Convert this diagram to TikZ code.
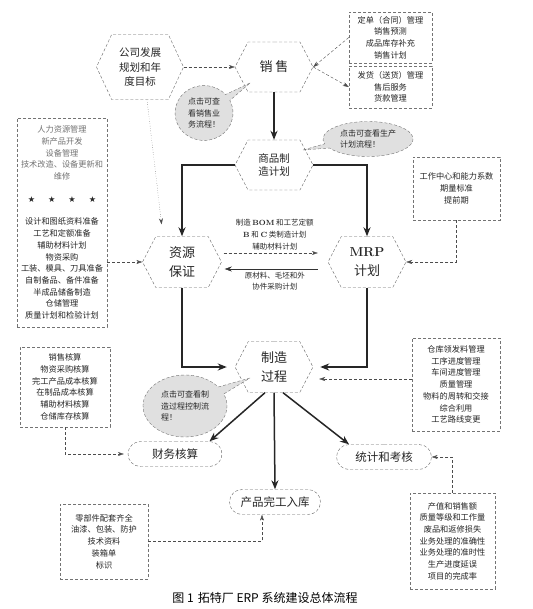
\documentclass[tikz,border=0pt]{standalone}
\usepackage{fontspec}
\newfontfamily\cjk{Noto Sans CJK SC}
\newfontfamily\symfont{DejaVu Sans}
\usetikzlibrary{arrows.meta,shapes.symbols,shapes.misc,shapes.callouts}

\begin{document}
\begin{tikzpicture}[
    x=1pt, y=-1pt,
    >=Stealth,
    every node/.style={font=\cjk, text=black!85},
    hexa/.style={
        draw=black!60,
        densely dashed,
        thin,
        signal,
        signal to=east and west,
        signal pointer angle=125,
        inner sep=0pt,
        align=center,
        minimum width=78pt,
        minimum height=51pt,
        font=\cjk\fontsize{13}{19}\selectfont
    },
    infobox/.style={
        draw=black!55,
        densely dashed,
        thin,
        rectangle,
        inner sep=0pt,
        align=center,
        font=\cjk\fontsize{8.2}{11.7}\selectfont
    },
    term/.style={
        draw=black!60,
        densely dashed,
        thin,
        rounded rectangle,
        inner sep=0pt,
        minimum height=25pt,
        font=\cjk\fontsize{11.5}{14}\selectfont
    },
    bubble/.style={
        ellipse callout,
        draw=black!55,
        densely dashed,
        thin,
        fill=black!12,
        inner sep=0pt,
        align=left,
        font=\cjk\fontsize{8}{11.5}\selectfont
    },
    flow/.style={->, line width=1.5pt, draw=black!85, >={Stealth[length=9pt,width=7pt]}},
    link/.style={->, densely dashed, thin, draw=black!70, >={Stealth[length=6pt,width=4pt]}}
]

\fill[white] (0,0) rectangle (532,609);
\useasboundingbox (0,0) rectangle (532,609);

% ==========================================================
% MAIN FLOW
% ==========================================================
\node[hexa, minimum width=87pt, minimum height=65pt, signal pointer angle=130,
      font=\cjk\fontsize{10.5}{14.5}\selectfont] (plan) at (140,67) {公司发展\\规划和年\\度目标};
\node[hexa, minimum height=50pt] (sales) at (274,67) {销\hspace{3pt}售};
\node[hexa, minimum height=50pt, font=\cjk\fontsize{10.5}{13}\selectfont] (mps) at (274,165) {商品制\\造计划};
\node[hexa, minimum width=79pt] (resource) at (182,262) {资源\\保证};
\node[hexa] (mrp) at (367,262) {{\rmfamily\bfseries MRP}\\计划};
\node[hexa] (making) at (274,367) {制造\\过程};

\node[term, minimum width=94pt] (finance) at (175,454) {财务核算};
\node[term, minimum width=95pt] (stats) at (384,457) {统计和考核};
\node[term, minimum width=91pt] (store) at (275,502) {产品完工入库};

% ==========================================================
% INFO BOXES
% ==========================================================
\node[infobox, minimum width=83pt, minimum height=51pt] (orderbox) at (390.5,37.5)
    {定单（合同）管理\\销售预测\\成品库存补充\\销售计划};
\node[infobox, minimum width=83pt, minimum height=42pt] (shipbox) at (390.5,87)
    {发货（送货）管理\\售后服务\\货款管理};
\node[infobox, minimum width=90pt, minimum height=209pt] (prepbox) at (62,222.5)
    {\textcolor{black!55}{人力资源管理}\\\textcolor{black!55}{新产品开发}\\
     \textcolor{black!55}{设备管理}\\\textcolor{black!55}{技术改造、设备更新和}\\
     \textcolor{black!55}{维修}\\[11pt]
     {\symfont ★\hspace{13pt}★\hspace{13pt}★\hspace{13pt}★}\\[11pt]
     设计和图纸资料准备\\工艺和定额准备\\辅助材料计划\\物资采购\\
     工装、模具、刀具准备\\自制备品、备件准备\\半成品储备制造\\仓储管理\\
     质量计划和检验计划};
\node[infobox, minimum width=87pt, minimum height=63pt] (wcbox) at (456.5,188.5)
    {工作中心和能力系数\\期量标准\\提前期};
\node[infobox, minimum width=88pt, minimum height=93pt] (shopbox) at (456,384.5)
    {仓库领发料管理\\工序进度管理\\车间进度管理\\质量管理\\物料的周转和交接\\综合利用\\工艺路线变更};
\node[infobox, minimum width=90pt, minimum height=80pt] (accbox) at (65,387)
    {销售核算\\物资采购核算\\完工产品成本核算\\在制品成本核算\\辅助材料核算\\仓储库存核算};
\node[infobox, minimum width=88pt, minimum height=75pt] (packbox) at (104,541.5)
    {零部件配套齐全\\油漆、包装、防护\\技术资料\\装箱单\\标识};
\node[infobox, minimum width=85pt, minimum height=96pt] (kpibox) at (452.5,541)
    {产值和销售额\\质量等级和工作量\\废品和返修损失\\业务处理的准确性\\业务处理的准时性\\生产进度延误\\项目的完成率};

% ==========================================================
% BUBBLES
% ==========================================================
\node[bubble, align=center, minimum width=58pt, minimum height=55pt,
      callout absolute pointer={([xshift=-24pt,yshift=-16pt]sales.center)}] (tip1) at (204,113)
    {点击可查\\看销售业\\务流程！};
\node[bubble, minimum width=90pt, minimum height=35pt,
      callout absolute pointer={([xshift=29pt,yshift=15pt]mps.center)}] (tip2) at (368,139)
    {点击可查看生产\\计划流程！};
\node[bubble, minimum width=84pt, minimum height=62pt,
      callout absolute pointer={([xshift=-24pt,yshift=-11pt]making.center)}] (tip3) at (185,406)
    {点击可查看制\\造过程控制流\\程！};

% ==========================================================
% CONNECTIONS
% ==========================================================
\draw[link] (plan.east) -- (sales.west);
\draw[link] (orderbox.west) -- (sales.east);
\draw[link] (sales.east) -- (shipbox.west);
\draw[link, dotted, shorten >=12pt] ([xshift=7pt]plan.south) -- ([xshift=-19pt]resource.north);

\draw[flow] (sales.south) -- (mps.north);
\draw[flow] (mps.west) -| (resource.north);
\draw[flow] (mps.east) -| (mrp.north);

\draw[link, shorten >=10pt, shorten <=2pt] ([yshift=9pt]resource.east) -- ([yshift=9pt]mrp.west)
    node[midway, above, inner sep=3pt, align=center, font=\cjk\fontsize{7.5}{12}\selectfont]
    {制造 {\rmfamily\bfseries BOM} 和工艺定额\\{\rmfamily\bfseries B} 和 {\rmfamily\bfseries C} 类制造计划\\辅助材料计划};
\draw[<-, thin, draw=black!80, >={Stealth[length=7pt,width=5pt]}, shorten <=3pt, shorten >=10pt]
    ([yshift=-7pt]resource.east) -- ([yshift=-7pt]mrp.west)
    node[midway, below, inner sep=3pt, align=center, font=\cjk\fontsize{7.5}{11}\selectfont]
    {原材料、毛坯和外\\协件采购计划};

\draw[link] (prepbox.east |- resource.west) -- (resource.west);
\draw[link] (wcbox.south) |- (mrp.east);

\draw[flow, shorten >=8pt] (resource.south) |- (making.west);
\draw[flow, shorten >=7pt] (mrp.south) |- (making.east);
\draw[link, shorten >=6pt] ([yshift=5.5pt]shopbox.west) -- ([yshift=5.5pt]shopbox.west -| making.east);

\draw[flow] ([xshift=-9pt]making.south) -- (finance.north east);
\draw[flow] (making.south) -- (store.north);
\draw[flow] ([xshift=9pt]making.south) -- (stats.north west);

\draw[link, shorten >=4pt] (accbox.south) |- (finance.west);
\draw[link] (kpibox.north) |- (stats.east);
\draw[link] (packbox.east) -| ([xshift=-13pt]store.south);

% caption
\node[font=\cjk\fontsize{12}{14}\selectfont, text=black] (caption) at (265,598)
    {图 1\hspace{4pt}拓特厂 ERP 系统建设总体流程};

\end{tikzpicture}
\end{document}
